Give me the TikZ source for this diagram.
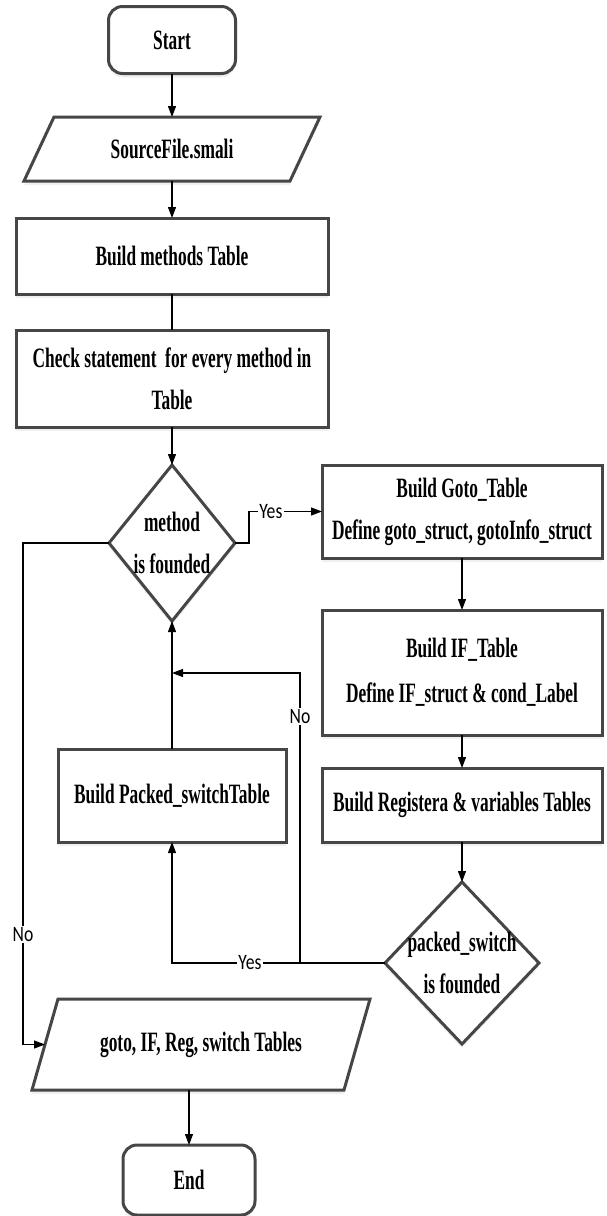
\documentclass[tikz,border=0pt]{standalone}
\usepackage{fontspec}
\newfontfamily\boxfont{Liberation Serif}[FakeStretch=0.62]
\newfontfamily\labfont{Carlito}[FakeStretch=0.8]
\usetikzlibrary{arrows.meta,shadows}
\pgfdeclarelayer{shapes}
\pgfsetlayers{shapes,main}

\begin{document}
\begin{tikzpicture}[x=1pt,y=-1pt,
  every node/.style={inner sep=0pt, outer sep=0pt},
  outline/.style={draw=gray!55!black, line width=3pt, fill=white,
    drop shadow={opacity=0.12, shadow xshift=0pt, shadow yshift=-4pt}},
  boxtext/.style={font=\boxfont\bfseries\fontsize{28}{42}\selectfont, align=center, text=black},
  procbox/.style={outline, boxtext, rectangle},
  termbox/.style={outline, boxtext, rectangle, rounded corners=14pt},
  slot/.style={boxtext, rectangle},
  flow/.style={draw=black, line width=1.2pt},
  arrowflow/.style={flow, -{Triangle[length=11pt,width=8pt]}},
  branch/.style={font=\labfont\fontsize{22}{24}\selectfont, fill=white, inner sep=1.5pt}
]
\path[use as bounding box] (0,0) rectangle (606,1216);

% left column
\node[termbox, minimum width=127pt, minimum height=67pt] (start) at (172,40) {Start};
\node[slot, minimum width=266pt, minimum height=64pt] (src) at (172,149) {SourceFile.smali};
\node[procbox, minimum width=312pt, minimum height=76pt] (methods) at (172,256) {Build methods Table};
\node[procbox, minimum width=312pt, minimum height=97pt] (check) at (172,378.5)
  {Check statement~ for every method in\\Table};
\node[slot, minimum width=126pt, minimum height=156pt] (dec1) at (172,543) {method\\is founded};
\node[procbox, minimum width=228pt, minimum height=93pt] (packed) at (172,795.5) {Build Packed\_switchTable};

% right column
\node[procbox, minimum width=280pt, minimum height=93pt] (goto) at (462,511.5)
  {Build Goto\_Table\\Define goto\_struct, gotoInfo\_struct};
\node[procbox, minimum width=280pt, minimum height=125pt] (iftab) at (462,672.5)
  {Build IF\_Table\\[3pt]Define IF\_struct \& cond\_Label};
\node[procbox, minimum width=280pt, minimum height=74pt] (reg) at (462,805)
  {Build Registera \& variables Tables};
\node[slot, minimum width=154pt, minimum height=162pt] (dec2) at (462,963) {packed\_switch\\is founded};

% output and end
\node[slot, minimum width=312pt, minimum height=91pt] (out) at (201,1044.5) {goto, IF, Reg, switch Tables};
\node[termbox, minimum width=132pt, minimum height=70pt] (finish) at (189,1180) {End};

% outlines of the slanted and diamond shapes
\begin{pgfonlayer}{shapes}
  \draw[outline] ([xshift=15pt]src.north west) -- ([xshift=15pt]src.north east)
    -- ([xshift=-15pt]src.south east) -- ([xshift=-15pt]src.south west) -- cycle;
  \draw[outline] ([xshift=13pt]out.north west) -- ([xshift=13pt]out.north east)
    -- ([xshift=-13pt]out.south east) -- ([xshift=-13pt]out.south west) -- cycle;
  \draw[outline] (dec1.north) -- (dec1.east) -- (dec1.south) -- (dec1.west) -- cycle;
  \draw[outline] (dec2.north) -- (dec2.east) -- (dec2.south) -- (dec2.west) -- cycle;
\end{pgfonlayer}

% connectors
\draw[arrowflow] (start) -- (src);
\draw[arrowflow] (src) -- (methods);
\draw[flow] (methods) -- (check);
\draw[arrowflow] (check) -- (dec1);
\draw[arrowflow] (dec1.east) -- ++(14,0) |- (goto.west) node[branch, pos=0.65] {Yes};
\draw[arrowflow] (goto) -- (iftab);
\draw[arrowflow] (iftab) -- (reg);
\draw[arrowflow] (reg) -- (dec2);
\draw[arrowflow] (dec2.west) -| (packed.south) node[branch, pos=0.317] {Yes};
\draw[arrowflow] (packed) -- (dec1);

\coordinate (nojoin) at (300,963);
\coordinate (nobend) at (300,673);
\draw[arrowflow] (nojoin) -- (nobend) node[branch, pos=0.85] {No} -- (packed.north |- nobend);

\coordinate (leftrail) at (23,543);
\draw[arrowflow] (dec1.west) -- (leftrail) |- (out.west) node[branch, pos=0.39] {No};
\draw[arrowflow] (out.south -| finish.north) -- (finish.north);
\end{tikzpicture}
\end{document}
